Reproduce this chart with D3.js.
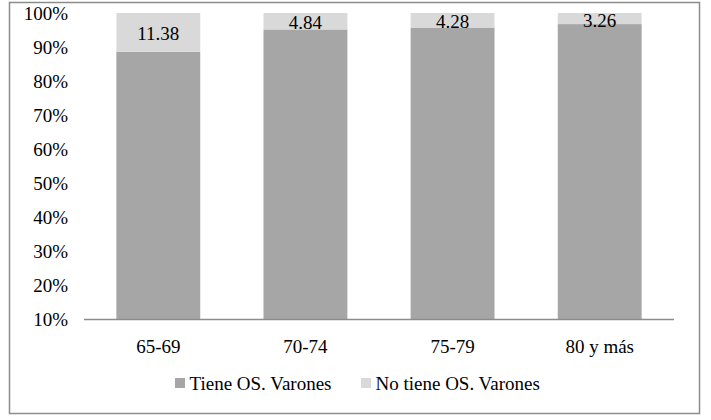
<!DOCTYPE html>
<html><head><meta charset="utf-8">
<script src="https://cdn.jsdelivr.net/npm/d3@7"></script>
<style>body{margin:0;background:#fff}svg{display:block}</style>
</head><body><svg id="c" width="711" height="420"></svg>
<script>
const categories = ["65-69","70-74","75-79","80 y más"];
const noTiene = [11.38, 4.84, 4.28, 3.26];
const tiene = noTiene.map(v => 100 - v);
const yTicks = [10,20,30,40,50,60,70,80,90,100];
const seriesNames = ["Tiene OS. Varones","No tiene OS. Varones"];
const colors = ["#a6a6a6","#d9d9d9"];
const FONT = "'Liberation Serif', 'Times New Roman', serif";
const FS = 19;

const svg = d3.select("#c").attr("font-family", FONT);
svg.append("rect").attr("x",9.5).attr("y",2.5).attr("width",690).attr("height",411)
  .attr("fill","#fff").attr("stroke","#8c8c8c").attr("stroke-width",1.5);

const x = d3.scaleBand().domain(categories).range([84,674]).paddingInner(0.43).paddingOuter(0.22);
const y = d3.scaleLinear().domain([10,100]).range([319,13]);

const g = svg.append("g");
categories.forEach((c,i) => {
  g.append("rect").attr("x",x(c)).attr("width",x.bandwidth())
    .attr("y",y(tiene[i])).attr("height",y(10)-y(tiene[i])).attr("fill",colors[0]);
  g.append("rect").attr("x",x(c)).attr("width",x.bandwidth())
    .attr("y",y(100)).attr("height",y(tiene[i])-y(100)).attr("fill",colors[1]);
  const mid = Math.max((y(100)+y(tiene[i]))/2 + 1.5, y(100)+7.5);
  g.append("text").attr("x",x(c)+x.bandwidth()/2).attr("y",mid).attr("dy","0.35em")
    .attr("text-anchor","middle").attr("font-size",FS).attr("font-family",FONT).attr("fill","#000")
    .text(noTiene[i].toFixed(2));
});

yTicks.forEach(t => {
  svg.append("text").attr("x",68).attr("y",y(t)+0.5).attr("dy","0.35em")
    .attr("text-anchor","end").attr("font-size",FS).attr("font-family",FONT).attr("fill","#000").text(t+"%");
});
svg.append("line").attr("x1",84).attr("x2",674).attr("y1",y(10)+0.5).attr("y2",y(10)+0.5)
  .attr("stroke","#8c8c8c").attr("stroke-width",1.5);
categories.forEach(c => {
  svg.append("text").attr("x",x(c)+x.bandwidth()/2).attr("y",346).attr("dy","0.35em")
    .attr("text-anchor","middle").attr("font-size",FS).attr("font-family",FONT).attr("fill","#000").text(c);
});
const legX = [175, 361];
seriesNames.forEach((n,i) => {
  svg.append("rect").attr("x",legX[i]).attr("y",378).attr("width",10).attr("height",10).attr("fill",colors[i]);
  svg.append("text").attr("x",legX[i]+14.5).attr("y",390)
    .attr("font-size",FS).attr("font-family",FONT).attr("fill","#000").text(n);
});
</script></body></html>
